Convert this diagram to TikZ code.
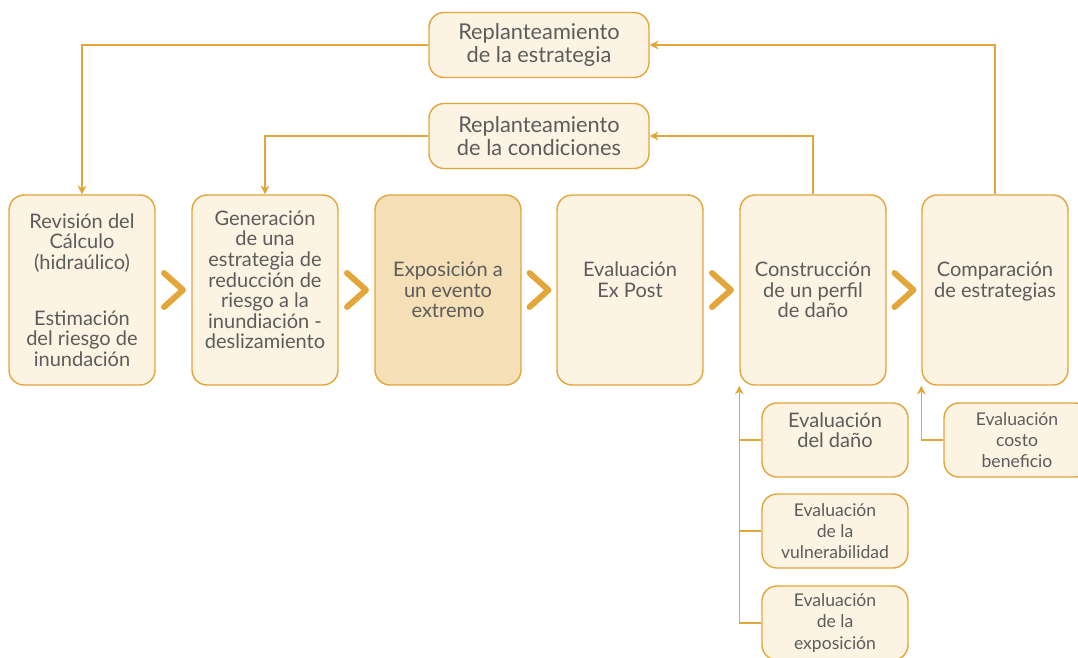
\documentclass[tikz,border=0pt]{standalone}
\usepackage{fontspec}
\setmainfont{Lato}
\usetikzlibrary{arrows.meta,calc}
\definecolor{oro}{HTML}{E3A63B}
\definecolor{crema}{HTML}{FCF3E3}
\definecolor{arena}{HTML}{F4DFB6}
\definecolor{gris}{HTML}{5C5C5C}

\begin{document}
\begin{tikzpicture}[x=0.02cm, y=-0.02cm,
    caja/.style={draw=oro, line width=0.8pt, fill=crema, rounded corners=0.3cm,
                 inner sep=0pt, align=center, text=gris},
    paso/.style={caja, minimum width=2.92cm, minimum height=3.8cm,
                 font=\fontsize{11.4}{11.7}\selectfont},
    replan/.style={caja, minimum width=4.4cm, minimum height=1.3cm,
                   font=\fontsize{12.4}{12.6}\selectfont},
    evalua/.style={caja, minimum width=2.92cm, minimum height=1.48cm,
                   font=\fontsize{10}{12}\selectfont},
    flujo/.style={draw=oro, line width=0.75pt, -{Stealth[length=5pt, width=5pt]}},
    linea/.style={draw=oro, line width=0.75pt},
    chevron/.style={draw=oro, line width=3.4pt, line cap=round, line join=round}]
    \useasboundingbox (0,0) rectangle (1078,657);

    \node[paso] (b1) at (82,290) {Revisión del\\Cálculo\\(hidraúlico)\\[20pt]Estimación\\del riesgo de\\inundación};
    \node[paso] (b2) at (265,290) {Generación\\de una\\estrategia de\\reducción de\\riesgo a la\\inundiación -\\deslizamiento\\\mbox{}};
    \node[paso, fill=arena] (b3) at (448,290) {Exposición a\\un evento\\extremo};
    \node[paso] (b4) at (630,290) {Evaluación\\Ex Post\\\mbox{}};
    \node[paso] (b5) at (813,290) {Construcción\\de un perfil\\de daño};
    \node[paso] (b6) at (995,290) {Comparación\\de estrategias\\\mbox{}};

    \node[replan] (rs) at (539,45) {Replanteamiento\\de la estrategia};
    \node[replan] (rc) at (539,136) {Replanteamiento\\de la condiciones};

    \node[evalua, font=\fontsize{11.4}{11.5}\selectfont] (e1) at (835,440) {Evaluación\\del daño\\\mbox{}};
    \node[evalua] (e2) at (835,531) {Evaluación\\de la\\vulnerabilidad};
    \node[evalua] (e3) at (835,623) {Evaluación\\de la\\exposición};
    \node[evalua] (cb) at (1017,440) {Evaluación\\costo\\beneficio};

    \foreach \a/\b in {b1/b2, b2/b3, b3/b4, b4/b5, b5/b6}
      \draw[chevron] ($(\a.east)!0.5!(\b.west)+(-9.5,-17)$) -- ++(19,17) -- ++(-19,17);

    \draw[flujo] (rs.west) -| (b1.north);
    \draw[flujo] (b6.north) |- (rs.east);
    \draw[flujo] (b5.north) |- (rc.east);
    \draw[flujo] (rc.west) -| (b2.north);

    \draw[flujo] (e3.west) -| (b5.south west);
    \draw[linea] (e1.west) -- (e1.west -| b5.south west);
    \draw[linea] (e2.west) -- (e2.west -| b5.south west);
    \draw[flujo] (cb.west) -| (b6.south west);
\end{tikzpicture}
\end{document}
